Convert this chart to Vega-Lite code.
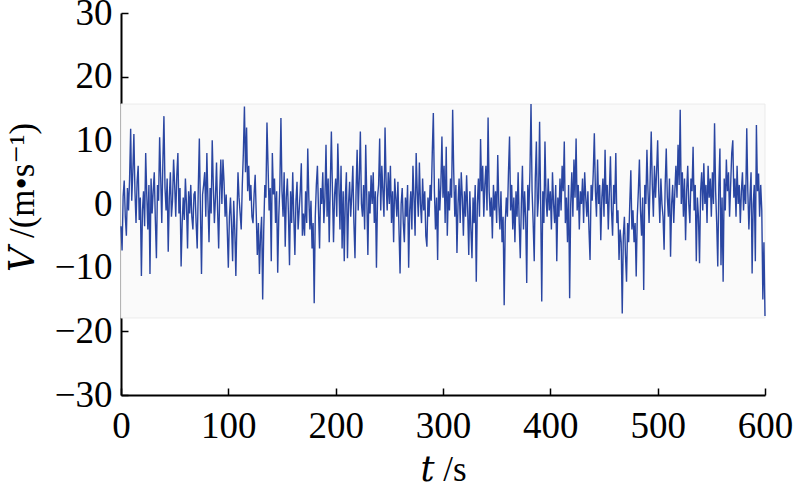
{
"$schema": "https://vega.github.io/schema/vega-lite/v6.json",
"width": 644, "height": 382,
"autosize": "none",
"padding": {"left": 121, "top": 13, "right": 31, "bottom": 89},
"background": "white",
"config": {"view": {"stroke": null}, "font": "Liberation Serif"},
"datasets": {
"band": [{"t0": 0, "t1": 600, "lo": -17.9, "hi": 15.7}],
"series": [
{"t":0,"v":-3.5},{"t":1,"v":-7.3},{"t":2,"v":1.2},{"t":3,"v":3.7},{"t":4,"v":-2.0},{"t":5,"v":-5.0},{"t":6,"v":2.5},{"t":7,"v":-1.0},{"t":8,"v":4.0},{"t":9,"v":11.8},
{"t":10,"v":0.5},{"t":11,"v":5.0},{"t":12,"v":11.0},{"t":13,"v":2.0},{"t":14,"v":-3.0},{"t":15,"v":3.5},{"t":16,"v":6.0},{"t":17,"v":-2.5},{"t":18,"v":1.0},{"t":19,"v":-11.3},
{"t":20,"v":-1.0},{"t":21,"v":2.0},{"t":22,"v":-3.5},{"t":23,"v":8.0},{"t":24,"v":1.5},{"t":25,"v":-4.0},{"t":26,"v":3.0},{"t":27,"v":-11.0},{"t":28,"v":4.0},{"t":29,"v":-1.5},
{"t":30,"v":2.0},{"t":31,"v":5.0},{"t":32,"v":-2.5},{"t":33,"v":-8.5},{"t":34,"v":3.0},{"t":35,"v":0.5},{"t":36,"v":10.5},{"t":37,"v":4.0},{"t":38,"v":-3.0},{"t":39,"v":6.5},
{"t":40,"v":13.8},{"t":41,"v":2.5},{"t":42,"v":-1.0},{"t":43,"v":4.0},{"t":44,"v":-7.5},{"t":45,"v":1.0},{"t":46,"v":5.0},{"t":47,"v":-2.0},{"t":48,"v":0.5},{"t":49,"v":7.0},
{"t":50,"v":3.0},{"t":51,"v":-2.0},{"t":52,"v":4.5},{"t":53,"v":8.0},{"t":54,"v":-1.5},{"t":55,"v":2.5},{"t":56,"v":-9.8},{"t":57,"v":-3.0},{"t":58,"v":1.0},{"t":59,"v":-2.5},
{"t":60,"v":4.0},{"t":61,"v":0.0},{"t":62,"v":-7.0},{"t":63,"v":2.0},{"t":64,"v":-1.5},{"t":65,"v":3.0},{"t":66,"v":-2.0},{"t":67,"v":-4.0},{"t":68,"v":1.5},{"t":69,"v":2.0},
{"t":70,"v":-3.0},{"t":71,"v":-7.0},{"t":72,"v":2.5},{"t":73,"v":10.3},{"t":74,"v":-1.0},{"t":75,"v":-11.0},{"t":76,"v":1.5},{"t":77,"v":3.0},{"t":78,"v":5.0},{"t":79,"v":-2.0},
{"t":80,"v":8.0},{"t":81,"v":0.5},{"t":82,"v":-6.0},{"t":83,"v":2.5},{"t":84,"v":-1.5},{"t":85,"v":10.0},{"t":86,"v":3.0},{"t":87,"v":-3.0},{"t":88,"v":1.0},{"t":89,"v":6.5},
{"t":90,"v":-1.0},{"t":91,"v":-7.0},{"t":92,"v":2.0},{"t":93,"v":7.0},{"t":94,"v":0.0},{"t":95,"v":7.0},{"t":96,"v":3.5},{"t":97,"v":-2.0},{"t":98,"v":1.5},{"t":99,"v":-4.0},
{"t":100,"v":-10.0},{"t":101,"v":-2.0},{"t":102,"v":1.0},{"t":103,"v":-3.5},{"t":104,"v":-9.0},{"t":105,"v":0.5},{"t":106,"v":-4.0},{"t":107,"v":-11.3},{"t":108,"v":-2.5},{"t":109,"v":5.0},
{"t":110,"v":1.0},{"t":111,"v":-1.5},{"t":112,"v":-4.0},{"t":113,"v":3.0},{"t":114,"v":8.0},{"t":115,"v":15.3},{"t":116,"v":5.0},{"t":117,"v":12.0},{"t":118,"v":2.0},{"t":119,"v":6.0},
{"t":120,"v":0.5},{"t":121,"v":3.0},{"t":122,"v":-2.0},{"t":123,"v":-3.0},{"t":124,"v":1.5},{"t":125,"v":4.6},{"t":126,"v":-1.5},{"t":127,"v":-8.0},{"t":128,"v":-3.0},{"t":129,"v":-11.0},
{"t":130,"v":-5.0},{"t":131,"v":-2.0},{"t":132,"v":-15.0},{"t":133,"v":-4.0},{"t":134,"v":3.0},{"t":135,"v":1.0},{"t":136,"v":12.8},{"t":137,"v":6.0},{"t":138,"v":-1.0},{"t":139,"v":2.5},
{"t":140,"v":-9.0},{"t":141,"v":8.0},{"t":142,"v":1.5},{"t":143,"v":4.0},{"t":144,"v":-3.0},{"t":145,"v":2.0},{"t":146,"v":-10.8},{"t":147,"v":-2.0},{"t":148,"v":3.0},{"t":149,"v":13.5},
{"t":150,"v":2.0},{"t":151,"v":-2.0},{"t":152,"v":5.0},{"t":153,"v":-6.7},{"t":154,"v":1.0},{"t":155,"v":4.0},{"t":156,"v":-1.5},{"t":157,"v":-9.6},{"t":158,"v":2.0},{"t":159,"v":-3.0},
{"t":160,"v":5.0},{"t":161,"v":-2.0},{"t":162,"v":-8.0},{"t":163,"v":0.5},{"t":164,"v":3.5},{"t":165,"v":-4.0},{"t":166,"v":-1.0},{"t":167,"v":2.0},{"t":168,"v":6.4},{"t":169,"v":-5.0},
{"t":170,"v":-1.5},{"t":171,"v":-5.0},{"t":172,"v":2.0},{"t":173,"v":-3.0},{"t":174,"v":8.7},{"t":175,"v":1.0},{"t":176,"v":-4.0},{"t":177,"v":0.5},{"t":178,"v":-7.0},{"t":179,"v":-3.0},
{"t":180,"v":-15.6},{"t":181,"v":-2.0},{"t":182,"v":3.0},{"t":183,"v":6.0},{"t":184,"v":-1.0},{"t":185,"v":-7.0},{"t":186,"v":2.5},{"t":187,"v":0.0},{"t":188,"v":5.0},{"t":189,"v":-3.0},
{"t":190,"v":1.0},{"t":191,"v":9.3},{"t":192,"v":-2.0},{"t":193,"v":4.0},{"t":194,"v":-6.0},{"t":195,"v":3.0},{"t":196,"v":11.4},{"t":197,"v":2.0},{"t":198,"v":-6.0},{"t":199,"v":1.5},
{"t":200,"v":4.0},{"t":201,"v":-2.0},{"t":202,"v":9.5},{"t":203,"v":3.0},{"t":204,"v":-4.0},{"t":205,"v":6.0},{"t":206,"v":-7.0},{"t":207,"v":2.0},{"t":208,"v":-9.0},{"t":209,"v":1.0},
{"t":210,"v":5.0},{"t":211,"v":-8.5},{"t":212,"v":0.0},{"t":213,"v":3.5},{"t":214,"v":-2.0},{"t":215,"v":1.5},{"t":216,"v":6.0},{"t":217,"v":-3.0},{"t":218,"v":-8.5},{"t":219,"v":2.0},
{"t":220,"v":8.5},{"t":221,"v":-1.0},{"t":222,"v":4.0},{"t":223,"v":11.4},{"t":224,"v":0.0},{"t":225,"v":-2.0},{"t":226,"v":3.0},{"t":227,"v":-4.0},{"t":228,"v":9.3},{"t":229,"v":1.0},
{"t":230,"v":-8.0},{"t":231,"v":2.0},{"t":232,"v":-1.5},{"t":233,"v":4.5},{"t":234,"v":0.0},{"t":235,"v":5.0},{"t":236,"v":-3.0},{"t":237,"v":2.0},{"t":238,"v":-10.0},{"t":239,"v":1.0},
{"t":240,"v":3.0},{"t":241,"v":10.3},{"t":242,"v":-1.0},{"t":243,"v":6.0},{"t":244,"v":2.0},{"t":245,"v":-2.0},{"t":246,"v":12.0},{"t":247,"v":3.5},{"t":248,"v":-1.0},{"t":249,"v":5.0},
{"t":250,"v":0.0},{"t":251,"v":6.0},{"t":252,"v":-3.0},{"t":253,"v":2.0},{"t":254,"v":-6.0},{"t":255,"v":4.0},{"t":256,"v":1.0},{"t":257,"v":-2.0},{"t":258,"v":3.5},{"t":259,"v":-4.0},
{"t":260,"v":-10.9},{"t":261,"v":0.0},{"t":262,"v":2.5},{"t":263,"v":-3.0},{"t":264,"v":-6.0},{"t":265,"v":1.0},{"t":266,"v":-2.0},{"t":267,"v":3.0},{"t":268,"v":-10.0},{"t":269,"v":-1.0},
{"t":270,"v":2.0},{"t":271,"v":-4.0},{"t":272,"v":6.0},{"t":273,"v":1.0},{"t":274,"v":-5.0},{"t":275,"v":8.0},{"t":276,"v":2.0},{"t":277,"v":-2.0},{"t":278,"v":6.5},{"t":279,"v":0.0},
{"t":280,"v":-3.0},{"t":281,"v":4.0},{"t":282,"v":-1.0},{"t":283,"v":2.0},{"t":284,"v":-5.0},{"t":285,"v":-6.7},{"t":286,"v":1.0},{"t":287,"v":-2.0},{"t":288,"v":3.0},{"t":289,"v":0.5},
{"t":290,"v":8.0},{"t":291,"v":14.3},{"t":292,"v":2.0},{"t":293,"v":-4.0},{"t":294,"v":1.0},{"t":295,"v":-8.8},{"t":296,"v":4.0},{"t":297,"v":-1.0},{"t":298,"v":3.0},{"t":299,"v":10.6},
{"t":300,"v":1.0},{"t":301,"v":6.0},{"t":302,"v":-3.0},{"t":303,"v":9.0},{"t":304,"v":-5.0},{"t":305,"v":2.0},{"t":306,"v":-1.0},{"t":307,"v":4.0},{"t":308,"v":1.0},{"t":309,"v":14.8},
{"t":310,"v":5.0},{"t":311,"v":-2.0},{"t":312,"v":3.0},{"t":313,"v":-7.7},{"t":314,"v":0.0},{"t":315,"v":4.0},{"t":316,"v":-3.0},{"t":317,"v":5.0},{"t":318,"v":1.0},{"t":319,"v":-5.0},
{"t":320,"v":2.0},{"t":321,"v":-2.0},{"t":322,"v":4.5},{"t":323,"v":-1.0},{"t":324,"v":-8.0},{"t":325,"v":2.0},{"t":326,"v":-4.0},{"t":327,"v":-8.5},{"t":328,"v":1.0},{"t":329,"v":-3.0},
{"t":330,"v":3.0},{"t":331,"v":-12.2},{"t":332,"v":0.0},{"t":333,"v":4.0},{"t":334,"v":-2.0},{"t":335,"v":10.2},{"t":336,"v":2.0},{"t":337,"v":6.0},{"t":338,"v":-2.0},{"t":339,"v":3.0},
{"t":340,"v":6.0},{"t":341,"v":-1.0},{"t":342,"v":13.6},{"t":343,"v":2.0},{"t":344,"v":-2.0},{"t":345,"v":1.0},{"t":346,"v":-5.4},{"t":347,"v":3.0},{"t":348,"v":-1.0},{"t":349,"v":2.0},
{"t":350,"v":-3.0},{"t":351,"v":7.7},{"t":352,"v":0.0},{"t":353,"v":-4.0},{"t":354,"v":2.0},{"t":355,"v":-6.0},{"t":356,"v":-2.0},{"t":357,"v":-15.9},{"t":358,"v":-3.0},{"t":359,"v":1.0},
{"t":360,"v":-2.0},{"t":361,"v":5.0},{"t":362,"v":10.6},{"t":363,"v":-1.0},{"t":364,"v":3.0},{"t":365,"v":-4.0},{"t":366,"v":1.0},{"t":367,"v":-6.0},{"t":368,"v":2.0},{"t":369,"v":-2.0},
{"t":370,"v":5.0},{"t":371,"v":-3.0},{"t":372,"v":-8.5},{"t":373,"v":0.0},{"t":374,"v":6.0},{"t":375,"v":-4.0},{"t":376,"v":2.0},{"t":377,"v":-2.0},{"t":378,"v":-12.4},{"t":379,"v":3.0},
{"t":380,"v":-1.0},{"t":381,"v":5.0},{"t":382,"v":15.7},{"t":383,"v":2.0},{"t":384,"v":-3.0},{"t":385,"v":-9.0},{"t":386,"v":4.0},{"t":387,"v":9.8},{"t":388,"v":-2.0},{"t":389,"v":1.0},
{"t":390,"v":12.9},{"t":391,"v":0.0},{"t":392,"v":-15.3},{"t":393,"v":2.0},{"t":394,"v":-3.0},{"t":395,"v":9.8},{"t":396,"v":1.0},{"t":397,"v":-2.0},{"t":398,"v":4.0},{"t":399,"v":-1.0},
{"t":400,"v":2.0},{"t":401,"v":-4.0},{"t":402,"v":5.0},{"t":403,"v":0.0},{"t":404,"v":-3.0},{"t":405,"v":3.0},{"t":406,"v":-9.0},{"t":407,"v":1.0},{"t":408,"v":-2.0},{"t":409,"v":4.0},
{"t":410,"v":-1.0},{"t":411,"v":6.0},{"t":412,"v":2.0},{"t":413,"v":9.8},{"t":414,"v":-3.0},{"t":415,"v":1.0},{"t":416,"v":-6.0},{"t":417,"v":3.0},{"t":418,"v":-14.8},{"t":419,"v":0.0},
{"t":420,"v":5.0},{"t":421,"v":-2.0},{"t":422,"v":7.0},{"t":423,"v":1.0},{"t":424,"v":10.3},{"t":425,"v":-1.0},{"t":426,"v":3.0},{"t":427,"v":-4.0},{"t":428,"v":2.0},{"t":429,"v":0.0},
{"t":430,"v":4.0},{"t":431,"v":-3.0},{"t":432,"v":5.0},{"t":433,"v":1.0},{"t":434,"v":-2.0},{"t":435,"v":2.0},{"t":436,"v":-4.0},{"t":437,"v":-8.8},{"t":438,"v":3.0},{"t":439,"v":0.5},
{"t":440,"v":5.0},{"t":441,"v":11.1},{"t":442,"v":2.0},{"t":443,"v":-2.0},{"t":444,"v":7.0},{"t":445,"v":0.0},{"t":446,"v":3.0},{"t":447,"v":-5.7},{"t":448,"v":1.0},{"t":449,"v":4.0},
{"t":450,"v":-2.0},{"t":451,"v":8.5},{"t":452,"v":0.0},{"t":453,"v":3.0},{"t":454,"v":-4.0},{"t":455,"v":2.0},{"t":456,"v":7.5},{"t":457,"v":-1.0},{"t":458,"v":-5.0},{"t":459,"v":3.0},
{"t":460,"v":0.0},{"t":461,"v":8.0},{"t":462,"v":-3.0},{"t":463,"v":-1.0},{"t":464,"v":-8.8},{"t":465,"v":-4.0},{"t":466,"v":-6.0},{"t":467,"v":-17.2},{"t":468,"v":-5.0},{"t":469,"v":-2.0},
{"t":470,"v":-8.0},{"t":471,"v":-12.2},{"t":472,"v":-3.0},{"t":473,"v":-6.0},{"t":474,"v":0.0},{"t":475,"v":5.3},{"t":476,"v":-4.0},{"t":477,"v":-1.0},{"t":478,"v":-6.0},{"t":479,"v":-3.0},
{"t":480,"v":-11.4},{"t":481,"v":-2.0},{"t":482,"v":2.0},{"t":483,"v":7.0},{"t":484,"v":-1.0},{"t":485,"v":-5.0},{"t":486,"v":1.0},{"t":487,"v":-13.5},{"t":488,"v":3.0},{"t":489,"v":0.0},
{"t":490,"v":8.5},{"t":491,"v":2.0},{"t":492,"v":-3.0},{"t":493,"v":4.0},{"t":494,"v":11.4},{"t":495,"v":3.0},{"t":496,"v":-2.0},{"t":497,"v":6.0},{"t":498,"v":1.0},{"t":499,"v":5.0},
{"t":500,"v":10.0},{"t":501,"v":2.0},{"t":502,"v":-3.0},{"t":503,"v":4.0},{"t":504,"v":0.0},{"t":505,"v":-2.0},{"t":506,"v":-7.2},{"t":507,"v":3.0},{"t":508,"v":8.7},{"t":509,"v":1.0},
{"t":510,"v":-2.0},{"t":511,"v":4.0},{"t":512,"v":-8.3},{"t":513,"v":0.0},{"t":514,"v":3.0},{"t":515,"v":-3.0},{"t":516,"v":2.0},{"t":517,"v":6.0},{"t":518,"v":1.0},{"t":519,"v":9.3},
{"t":520,"v":3.0},{"t":521,"v":14.8},{"t":522,"v":0.0},{"t":523,"v":5.0},{"t":524,"v":-2.0},{"t":525,"v":4.0},{"t":526,"v":-5.7},{"t":527,"v":2.0},{"t":528,"v":6.0},{"t":529,"v":0.0},
{"t":530,"v":-3.0},{"t":531,"v":4.0},{"t":532,"v":2.0},{"t":533,"v":9.0},{"t":534,"v":-1.0},{"t":535,"v":3.0},{"t":536,"v":-9.0},{"t":537,"v":1.0},{"t":538,"v":-2.0},{"t":539,"v":-9.3},
{"t":540,"v":2.0},{"t":541,"v":5.0},{"t":542,"v":-1.0},{"t":543,"v":6.4},{"t":544,"v":0.0},{"t":545,"v":3.0},{"t":546,"v":-3.0},{"t":547,"v":6.0},{"t":548,"v":1.0},{"t":549,"v":4.0},
{"t":550,"v":-2.0},{"t":551,"v":5.0},{"t":552,"v":0.0},{"t":553,"v":12.7},{"t":554,"v":2.0},{"t":555,"v":-3.0},{"t":556,"v":-9.8},{"t":557,"v":3.0},{"t":558,"v":8.7},{"t":559,"v":-9.6},
{"t":560,"v":1.0},{"t":561,"v":-12.2},{"t":562,"v":4.0},{"t":563,"v":-1.0},{"t":564,"v":7.0},{"t":565,"v":2.0},{"t":566,"v":5.0},{"t":567,"v":-2.0},{"t":568,"v":3.0},{"t":569,"v":8.0},
{"t":570,"v":10.0},{"t":571,"v":1.0},{"t":572,"v":4.0},{"t":573,"v":-2.0},{"t":574,"v":6.0},{"t":575,"v":0.0},{"t":576,"v":3.0},{"t":577,"v":-3.0},{"t":578,"v":2.0},{"t":579,"v":5.0},
{"t":580,"v":-1.0},{"t":581,"v":3.0},{"t":582,"v":0.0},{"t":583,"v":11.9},{"t":584,"v":2.0},{"t":585,"v":-4.0},{"t":586,"v":1.0},{"t":587,"v":5.0},{"t":588,"v":-10.9},{"t":589,"v":0.0},
{"t":590,"v":3.0},{"t":591,"v":-9.0},{"t":592,"v":12.4},{"t":593,"v":2.0},{"t":594,"v":4.8},{"t":595,"v":-2.0},{"t":596,"v":3.0},{"t":597,"v":-1.0},{"t":598,"v":-15.0},{"t":599,"v":-6.0},
{"t":600,"v":-17.6}
]
},
"layer": [
{
"data": {"name": "band"},
"mark": {"type": "rect", "fill": "#fafafa", "stroke": "#ebebeb", "strokeWidth": 1},
"encoding": {
"x": {"field": "t0", "type": "quantitative", "scale": {"domain": [0, 600], "nice": false, "zero": false},
"axis": {"values": [0, 100, 200, 300, 400, 500, 600], "title": "𝑡 /s", "grid": false, "domainColor": "black", "domainWidth": 2, "tickColor": "black", "tickWidth": 1.5, "tickSize": -7, "labelFont": "Liberation Serif", "labelFontSize": 37, "labelColor": "black", "labelPadding": 20, "labelFlush": false, "labelOverlap": false, "titleFont": "Liberation Serif, DejaVu Serif", "titleFontSize": 35, "titleFontWeight": "normal", "titleColor": "black", "titleY": 85, "titleBaseline": "alphabetic"}},
"x2": {"field": "t1"},
"y": {"field": "lo", "type": "quantitative", "scale": {"domain": [-30, 30], "nice": false, "zero": false},
"axis": {"values": [-30, -20, -10, 0, 10, 20, 30], "title": "𝑉 /(m•s⁻¹)", "grid": false, "domainColor": "black", "domainWidth": 2, "tickColor": "black", "tickWidth": 1.5, "tickSize": -7, "labelFont": "Liberation Serif", "labelFontSize": 37, "labelColor": "black", "labelPadding": 16, "labelOverlap": false, "labelFlush": false, "titleFont": "Liberation Serif, DejaVu Serif", "titleFontSize": 35, "titleFontWeight": "normal", "titleColor": "black", "titleX": -99, "titleY": 184, "titleAngle": -90, "titleBaseline": "middle", "titleAlign": "center"}},
"y2": {"field": "hi"}
}
},
{
"data": {"name": "series"},
"mark": {"type": "line", "color": "#2a46a2", "strokeWidth": 1.4},
"encoding": {
"x": {"field": "t", "type": "quantitative"},
"y": {"field": "v", "type": "quantitative"}
}
}
]
}
